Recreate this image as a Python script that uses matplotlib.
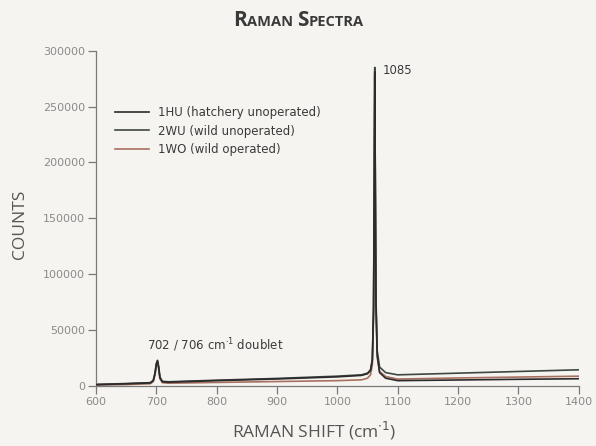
import matplotlib
matplotlib.use("Agg")
import matplotlib.pyplot as plt
from matplotlib.offsetbox import TextArea, HPacker, AnchoredOffsetbox

# Raman shift (cm-1) sample points and counts for each specimen
shift = [600, 650, 690, 695, 698, 700, 702, 704, 706, 710, 720, 800, 900, 1000,
         1040, 1050, 1055, 1058, 1060, 1061, 1062, 1063, 1064, 1066, 1070, 1080,
         1100, 1200, 1300, 1400]
counts_2wu = [1500, 2200, 3000, 5000, 12000, 20000, 23000, 17000, 8000, 4200, 3800,
              5200, 6800, 8800, 10000, 11500, 14500, 24000, 70000, 165000, 285000,
              180000, 80000, 32000, 17000, 12000, 10000, 11500, 13000, 14500]
counts_1hu = [1200, 2000, 2800, 4800, 11500, 19500, 22500, 16500, 7500, 3800, 3400,
              4800, 6300, 8200, 9500, 11000, 14000, 23000, 68000, 160000, 281000,
              175000, 75000, 28000, 12000, 7000, 4800, 5400, 6000, 6500]
counts_1wo = [800, 1300, 2000, 4000, 10500, 18000, 21000, 15000, 6500, 3000, 2500,
              3200, 4000, 4800, 5500, 7000, 10000, 19000, 62000, 155000, 277000,
              170000, 72000, 26000, 13000, 8500, 6200, 7200, 8000, 8800]

labels = ["1HU (hatchery unoperated)", "2WU (wild unoperated)", "1WO (wild operated)"]
xticks = [600, 700, 800, 900, 1000, 1100, 1200, 1300, 1400]
yticks = [0, 50000, 100000, 150000, 200000, 250000, 300000]

BG = "#f6f4f0"
AXC = "#7a7a7a"

fig = plt.figure(figsize=(5.96, 4.46), dpi=100, facecolor=BG)
ax = fig.add_axes([0.161, 0.1345, 0.810, 0.752], facecolor=BG)

ax.plot(shift, counts_1hu, color="#2b2b2b", lw=1.2, label=labels[0], zorder=3)
ax.plot(shift, counts_2wu, color="#3e4843", lw=1.2, label=labels[1], zorder=2)
ax.plot(shift, counts_1wo, color="#a8705f", lw=1.2, label=labels[2], zorder=1)

ax.set_xlim(600, 1400)
ax.set_ylim(0, 300000)
ax.set_xticks(xticks)
ax.set_yticks(yticks)
ax.set_xticklabels([str(v) for v in xticks])
ax.set_yticklabels([str(v) for v in yticks])

for side in ("top", "right"):
    ax.spines[side].set_visible(False)
for side in ("left", "bottom"):
    ax.spines[side].set_color(AXC)
    ax.spines[side].set_linewidth(0.9)
ax.tick_params(direction="out", length=6, width=0.9, color=AXC,
               labelcolor="#8a8a8a", labelsize=8, pad=2)

leg = ax.legend(loc="upper left", bbox_to_anchor=(0.017, 0.866), frameon=False,
                handlelength=2.9, handletextpad=0.75, labelspacing=0.45,
                prop={"family": "DejaVu Sans", "size": 8.5})
for t in leg.get_texts():
    t.set_color("#3a3a3a")

ax.text(1075, 282600, "1085", fontsize=8.5, color="#3a3a3a", va="center")
ax.text(684.5, 36700, "702 / 706 cm$^{\\cdot1}$ doublet", fontsize=8.5,
        color="#3a3a3a", va="center")

fig.text(20 / 596, 1 - 224 / 446, "COUNTS", family="Open Sans", fontsize=12.5,
         color="#555555", rotation=90, ha="center", va="center")
fig.text(314 / 596, 1 - 431 / 446, "RAMAN SHIFT (cm$^{\\cdot1}$)", family="Open Sans",
         fontsize=12.5, color="#555555", ha="center", va="center")

# title set in small caps
big = dict(family="Open Sans", fontsize=15, color="#3a3a3a", weight="bold")
small = dict(family="Open Sans", fontsize=10.5, color="#3a3a3a", weight="bold")
parts = [("R", big), ("AMAN ", small), ("S", big), ("PECTRA", small)]
boxes = [TextArea(s, textprops=p) for s, p in parts]
title = HPacker(children=boxes, align="baseline", pad=0, sep=0)
anchored = AnchoredOffsetbox(loc="center left", child=title, frameon=False,
                             bbox_to_anchor=(233 / 596, 1 - 21 / 446),
                             bbox_transform=fig.transFigure, pad=0, borderpad=0)
fig.add_artist(anchored)

fig.savefig("out.png", dpi=100, facecolor=BG)
